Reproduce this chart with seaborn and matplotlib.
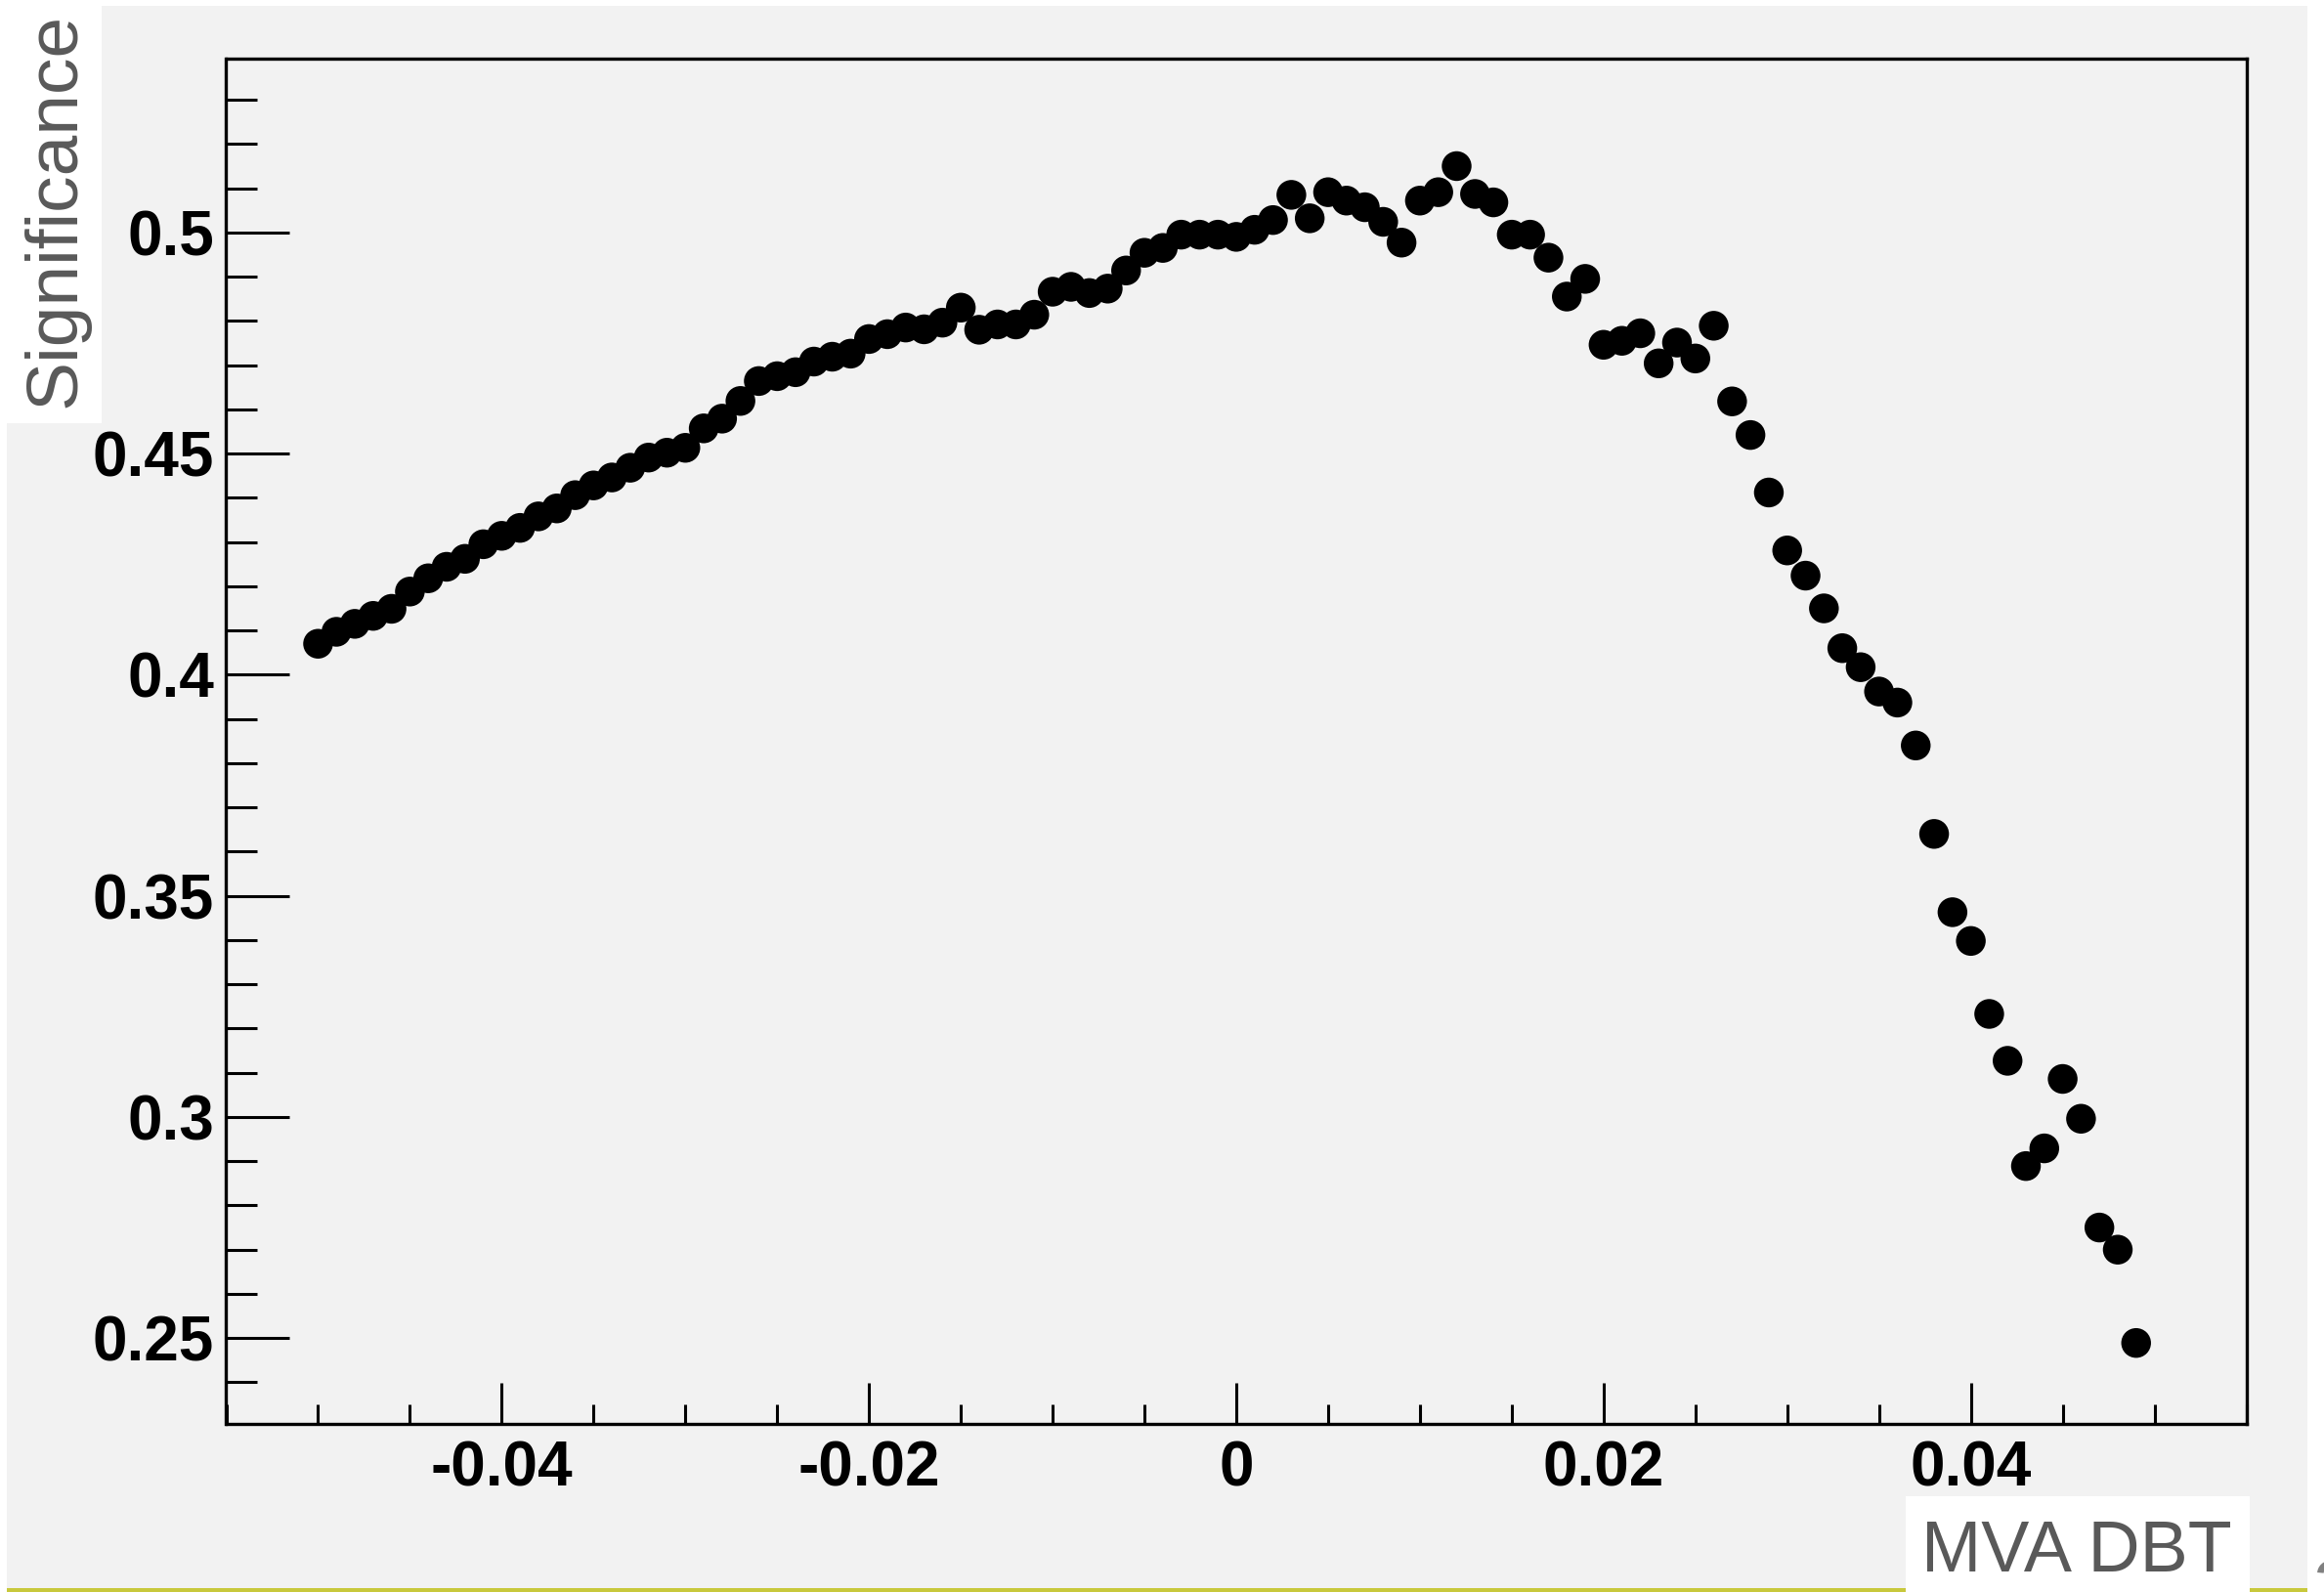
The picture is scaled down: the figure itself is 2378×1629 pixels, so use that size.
import pandas as pd
import matplotlib
matplotlib.use("Agg")
import matplotlib.pyplot as plt
import seaborn as sns
from matplotlib.patches import Rectangle
from matplotlib.ticker import MultipleLocator

# Data: MVA DBT cut value vs significance
mva_cut = [
    -0.050, -0.049, -0.048, -0.047, -0.046, -0.045, -0.044, -0.043, -0.042, -0.041,
    -0.040, -0.039, -0.038, -0.037, -0.036, -0.035, -0.034, -0.033, -0.032, -0.031,
    -0.030, -0.029, -0.028, -0.027, -0.026, -0.025, -0.024, -0.023, -0.022, -0.021,
    -0.020, -0.019, -0.018, -0.017, -0.016, -0.015, -0.014, -0.013, -0.012, -0.011,
    -0.010, -0.009, -0.008, -0.007, -0.006, -0.005, -0.004, -0.003, -0.002, -0.001,
    0.000, 0.001, 0.002, 0.003, 0.004, 0.005, 0.006, 0.007, 0.008, 0.009,
    0.010, 0.011, 0.012, 0.013, 0.014, 0.015, 0.016, 0.017, 0.018, 0.019,
    0.020, 0.021, 0.022, 0.023, 0.024, 0.025, 0.026, 0.027, 0.028, 0.029,
    0.030, 0.031, 0.032, 0.033, 0.034, 0.035, 0.036, 0.037, 0.038, 0.039,
    0.040, 0.041, 0.042, 0.043, 0.044, 0.045, 0.046, 0.047, 0.048, 0.049,
]
significance = [
    0.4070, 0.4097, 0.4115, 0.4133, 0.4149, 0.4188, 0.4218, 0.4244, 0.4262, 0.4295,
    0.4314, 0.4332, 0.4358, 0.4376, 0.4406, 0.4428, 0.4446, 0.4468, 0.4491, 0.4502,
    0.4513, 0.4557, 0.4579, 0.4619, 0.4664, 0.4675, 0.4684, 0.4708, 0.4719, 0.4726,
    0.4759, 0.4770, 0.4785, 0.4781, 0.4796, 0.4830, 0.4780, 0.4792, 0.4792, 0.4814,
    0.4866, 0.4877, 0.4863, 0.4873, 0.4914, 0.4954, 0.4965, 0.4995, 0.4995, 0.4995,
    0.4990, 0.5006, 0.5028, 0.5085, 0.5032, 0.5091, 0.5072, 0.5057, 0.5024, 0.4977,
    0.5072, 0.5091, 0.5150, 0.5087, 0.5068, 0.4995, 0.4995, 0.4943, 0.4855, 0.4895,
    0.4746, 0.4755, 0.4772, 0.4704, 0.4751, 0.4715, 0.4789, 0.4618, 0.4542, 0.4412,
    0.4281, 0.4224, 0.4150, 0.4060, 0.4017, 0.3962, 0.3937, 0.3840, 0.3640, 0.3463,
    0.3398, 0.3233, 0.3127, 0.2889, 0.2929, 0.3086, 0.2996, 0.2750, 0.2700, 0.2489,
]

x_ticks = [-0.04, -0.02, 0.0, 0.02, 0.04]
x_tick_labels = ["-0.04", "-0.02", "0", "0.02", "0.04"]
y_ticks = [0.25, 0.30, 0.35, 0.40, 0.45, 0.50]
y_tick_labels = ["0.25", "0.3", "0.35", "0.4", "0.45", "0.5"]

df = pd.DataFrame({"mva_cut": mva_cut, "significance": significance})

plt.rcParams["font.family"] = ["Liberation Sans", "DejaVu Sans"]
plt.rcParams["axes.unicode_minus"] = False

W, H = 2378, 1629
PANEL = "#f2f2f2"
GREY_TEXT = "#595959"


def fx(px):
    return px / W


def fy(py):
    return 1 - py / H


fig = plt.figure(figsize=(W / 100, H / 100), dpi=100, facecolor="white")

# slide background: grey canvas, yellow rule at the bottom, white text boxes
fig.patches.append(Rectangle((fx(7), fy(1625)), (2361 - 7) / W, (1625 - 6) / H,
                             transform=fig.transFigure, facecolor=PANEL,
                             edgecolor="none", zorder=-2))
fig.patches.append(Rectangle((fx(7), fy(1629)), (2361 - 7) / W, 4 / H,
                             transform=fig.transFigure, facecolor="#c8c83c",
                             edgecolor="none", zorder=-1))
fig.patches.append(Rectangle((0, fy(433)), 104 / W, 433 / H,
                             transform=fig.transFigure, facecolor="white",
                             edgecolor="none", zorder=-1))
fig.patches.append(Rectangle((fx(1950), 0), 352 / W, (1629 - 1531) / H,
                             transform=fig.transFigure, facecolor="white",
                             edgecolor="none", zorder=-1))

ax = fig.add_axes([fx(231.5), fy(1457), (2298.5 - 231.5) / W, (1457 - 60) / H])
ax.set_facecolor(PANEL)

sns.scatterplot(data=df, x="mva_cut", y="significance", ax=ax, s=480,
                color="black", edgecolor="none", linewidth=0, marker="o",
                legend=False)

ax.set_xlim(-0.055, 0.055)
ax.set_ylim(0.2306, 0.5393)
ax.set_xlabel("")
ax.set_ylabel("")

ax.set_xticks(x_ticks)
ax.set_xticklabels(x_tick_labels)
ax.xaxis.set_minor_locator(MultipleLocator(0.005))
ax.set_yticks(y_ticks)
ax.set_yticklabels(y_tick_labels)
ax.yaxis.set_minor_locator(MultipleLocator(0.01))

for lab in ax.get_xticklabels() + ax.get_yticklabels():
    lab.set_fontweight("bold")
    lab.set_fontsize(46)

ax.tick_params(axis="both", which="both", direction="in", colors="black",
               width=2.2, top=False, right=False)
ax.tick_params(axis="x", which="major", length=30, pad=12)
ax.tick_params(axis="x", which="minor", length=14.5)
ax.tick_params(axis="y", which="major", length=47, pad=9)
ax.tick_params(axis="y", which="minor", length=23)

for sp in ax.spines.values():
    sp.set_linewidth(2.4)
    sp.set_color("black")

fig.text(fx(57), fy(215), "Significance", rotation=90, ha="center",
         va="center", fontsize=54, color=GREY_TEXT, zorder=3)
fig.text(fx(2125), fy(1608), "MVA DBT", ha="center", va="baseline",
         fontsize=53, color=GREY_TEXT, zorder=3)
# slide number, cut off by the page edge as in the source
fig.text(fx(2366), fy(1648), "2", ha="left", va="baseline",
         fontsize=53, color="#808080", zorder=3)

fig.savefig("out.png", dpi=100, facecolor="white")
